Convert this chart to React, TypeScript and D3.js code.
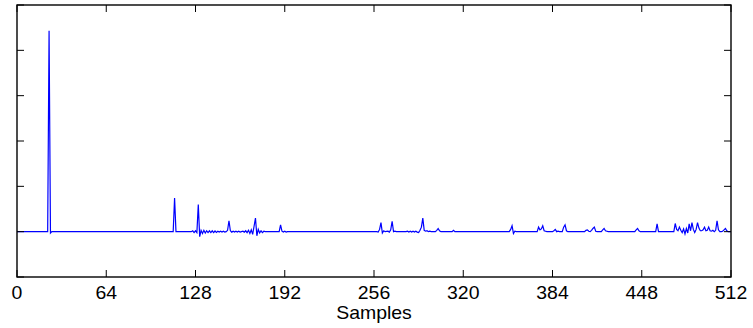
import React from 'react'
import * as d3 from 'd3'

// sample index / amplitude pairs (everything in between sits on 0)
const samples: number[] = [
  0, 22, 23, 24, 25,
  112, 113, 114,
  125, 126, 127, 128, 129, 130, 131, 132, 133, 134, 135, 136, 137, 138, 139, 140, 141, 142, 143, 144, 145, 146, 147, 148, 149,
  150, 151, 152, 153, 154, 155, 156, 157, 158, 159, 160, 161, 162, 163, 164, 165, 166, 167, 168, 169, 170, 171, 172, 173, 174, 175, 176, 177, 178,
  188, 189, 190, 191, 192, 193, 194,
  258, 259, 260, 261, 262, 263, 264, 266, 267, 268, 269, 270, 271, 272,
  279, 280, 281, 282, 283, 284, 285, 286, 287, 288, 289, 290, 291, 292, 293, 294, 295, 296, 297,
  300, 301, 302, 303, 304, 312, 313, 314,
  353, 354, 355, 356, 357, 358,
  373, 374, 375, 376, 377, 378, 379, 380, 384, 385, 386, 387, 388, 389, 391, 392, 393, 394, 395,
  407, 408, 409, 410, 411, 412, 413, 414, 415, 416, 419, 420, 421, 422, 423, 424,
  443, 444, 445, 446, 447,
  458, 459, 460,
  471, 472, 473, 474, 475, 476, 477, 478, 479, 480, 481, 482, 483, 484, 485, 486, 487, 488, 489, 490,
  491, 492, 493, 494, 495, 496, 497, 498, 499, 500, 501, 502, 503, 504, 505, 506, 507, 508, 509, 510, 512,
]

const amplitudes: number[] = [
  0, 0, 4.43, -0.03, 0,
  0, 0.74, 0,
  0, 0.02, -0.02, 0.02, -0.02, 0.6, -0.11, 0.03, -0.04, 0.03, -0.03, 0.02, -0.02, 0.02, -0.02, 0.02, -0.02, 0.015, -0.015, 0.01, -0.01, 0.01, -0.01, 0.01, -0.01,
  0, 0.03, 0.24, 0.02, -0.01, 0.01, -0.01, 0.01, -0.01, 0.01, -0.01, 0, 0.01, -0.01, 0.02, -0.02, 0.03, -0.04, 0.04, -0.06, 0.12, 0.3, -0.09, 0.05, -0.03, 0.02, -0.02, 0.01, 0,
  0, 0.15, 0.01, -0.01, 0.01, -0.01, 0,
  0, -0.01, 0.05, 0.2, -0.03, 0.02, 0, 0.01, -0.01, 0.04, 0.23, 0, 0.01, 0,
  0, 0.01, -0.01, 0.01, -0.01, 0.01, -0.01, 0.01, -0.01, -0.02, 0.03, 0.1, 0.3, 0.03, 0.01, 0.02, 0, 0.01, 0,
  0, 0.03, 0.07, 0.02, 0, 0, 0.03, 0,
  0, 0.05, 0.13, -0.04, 0.01, 0,
  0, 0.1, 0.04, 0.06, 0.13, 0.02, 0.01, 0, 0, 0.02, 0.05, 0, 0.01, 0, 0, 0.1, 0.15, 0.02, 0,
  0, 0.03, 0.04, 0.01, 0, 0.03, 0.07, 0.1, 0.01, 0, 0, 0.04, 0.07, 0.02, 0.01, 0,
  0, 0.04, 0.07, 0.02, 0,
  0, 0.17, 0,
  0, 0.18, 0.05, 0.02, 0.1, 0.03, -0.02, 0.06, -0.05, 0.07, -0.03, 0.17, 0.02, 0.2, 0.05, -0.02, 0.05, 0.2, 0.08, 0.02,
  0.02, 0.04, 0.1, 0.02, 0.03, 0.1, 0.02, 0.01, 0.03, 0, 0.03, 0.24, 0.04, 0, 0, 0.01, 0.04, 0.07, 0.02, 0, 0,
]

const xTicks = [0, 64, 128, 192, 256, 320, 384, 448, 512]
const yTicks = [-1, 0, 1, 2, 3, 4, 5]
const xLabel = 'Samples'

const W = 753
const H = 328
const plot = { left: 17, right: 731, top: 5, bottom: 277 }
const TICK = 7
const FONT = '"Liberation Sans", Arial, Helvetica, sans-serif'

export default function App() {
  const x = d3.scaleLinear().domain([0, 512]).range([plot.left, plot.right])
  const y = d3.scaleLinear().domain([-1, 5]).range([plot.bottom, plot.top])

  const pts: [number, number][] = samples.map((s, i) => [s, amplitudes[i]])
  const line = d3.line<[number, number]>()
    .x((d) => x(d[0]))
    .y((d) => y(d[1]))

  return (
    <svg
      width={W}
      height={H}
      style={{ position: 'absolute', left: 0, top: 0, background: '#fff' }}
    >
      <path d={line(pts) || ''} fill="none" stroke="#0000ff" strokeWidth={1.2} />

      {xTicks.map((t) => (
        <g key={'x' + t}>
          <line x1={x(t)} x2={x(t)} y1={plot.bottom} y2={plot.bottom - TICK} stroke="#000" strokeWidth={1} />
          <line x1={x(t)} x2={x(t)} y1={plot.top} y2={plot.top + TICK} stroke="#000" strokeWidth={1} />
          <text
            transform={`translate(${x(t)},299) scale(1.08,1)`}
            textAnchor="middle"
            fontFamily={FONT}
            fontSize={18}
            fill="#000"
          >
            {t}
          </text>
        </g>
      ))}

      {yTicks.map((t) => (
        <g key={'y' + t}>
          <line x1={plot.left} x2={plot.left + TICK} y1={y(t)} y2={y(t)} stroke="#000" strokeWidth={1} />
          <line x1={plot.right} x2={plot.right - TICK} y1={y(t)} y2={y(t)} stroke="#000" strokeWidth={1} />
        </g>
      ))}

      <rect
        x={plot.left}
        y={plot.top}
        width={plot.right - plot.left}
        height={plot.bottom - plot.top}
        fill="none"
        stroke="#000"
        strokeWidth={1.4}
      />

      <text
        transform={`translate(${(plot.left + plot.right) / 2},319) scale(1.08,1)`}
        textAnchor="middle"
        fontFamily={FONT}
        fontSize={18}
        fill="#000"
      >
        {xLabel}
      </text>
    </svg>
  )
}
